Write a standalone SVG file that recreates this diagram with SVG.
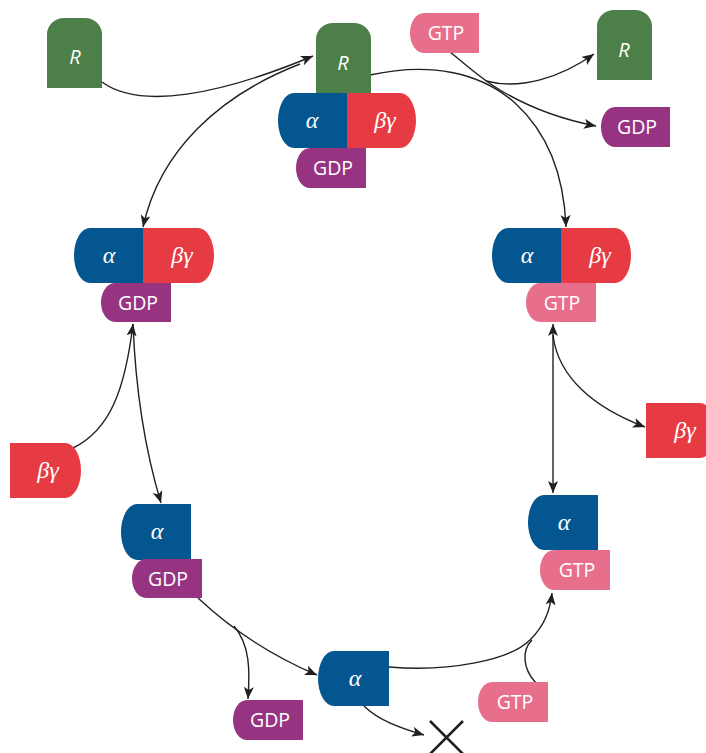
<svg xmlns="http://www.w3.org/2000/svg" width="706" height="753" viewBox="0 0 706 753">
<defs>
<style>
.g{fill:#4c8048}.b{fill:#03568f}.r{fill:#e63b43}.p{fill:#963482}.k{fill:#e86f8c}
.t{fill:#fff;font-family:"Open Sans","Noto Sans",sans-serif;font-size:19.5px;text-anchor:middle}
.gr{fill:#fff;font-family:"Liberation Serif","DejaVu Serif",serif;font-style:italic;font-size:24px;text-anchor:middle}
.ri{fill:#fff;font-family:"Open Sans","Noto Sans",sans-serif;font-style:italic;font-size:20px;text-anchor:middle}
.c{fill:none;stroke:#231f20;stroke-width:1.4}
</style>
<marker id="ah" markerUnits="userSpaceOnUse" markerWidth="13" markerHeight="11" refX="12" refY="5" orient="auto-start-reverse">
<path d="M0,0 L12,5 L0,10 L3,5 Z" fill="#231f20"/>
</marker>
</defs>

<g id="connectors">
<path class="c" d="M102 82 C140 110,220 95,313 56" marker-end="url(#ah)"/>
<path class="c" d="M300 64 C220 95,160 150,143 227" marker-end="url(#ah)"/>
<path class="c" d="M370 75 C430 62,480 72,515 103 C548 133,564 175,566 227" marker-end="url(#ah)"/>
<path class="c" d="M486 81 C520 90,560 78,594 54" marker-end="url(#ah)"/>
<path class="c" d="M450 52 C470 68,480 78,500 90 C530 108,565 120,596 126" marker-end="url(#ah)"/>
<path class="c" d="M73 448 C110 430,125 390,133 324" marker-end="url(#ah)"/>
<path class="c" d="M133 324 C136 400,148 460,161 503" marker-end="url(#ah)"/>
<path class="c" d="M553 324 L553 493" marker-start="url(#ah)" marker-end="url(#ah)"/>
<path class="c" d="M553 335 C558 378,595 408,645 427" marker-end="url(#ah)"/>
<path class="c" d="M198 598 C230 628,270 655,317 675" marker-end="url(#ah)"/>
<path class="c" d="M234 626 C250 645,250 670,248 699" marker-end="url(#ah)"/>
<path class="c" d="M389 667 C450 672,510 660,530 640 C545 625,550 610,552 593" marker-end="url(#ah)"/>
<path class="c" d="M536 683 C522 668,522 650,532 640"/>
<path class="c" d="M364 706 C378 720,400 728,424 735" marker-end="url(#ah)"/>
</g>

<g id="R-left"><path class="g" d="M47 88 V34 A17 16 0 0 1 64 18 H85 A17 16 0 0 1 102 34 V88 Z"/><text class="ri" x="75" y="64">R</text></g>
<g id="R-center"><path class="g" d="M316 93 V39 A17 16 0 0 1 333 23 H354 A17 16 0 0 1 371 39 V93 Z"/><text class="ri" x="343" y="70">R</text></g>
<g id="R-right"><path class="g" d="M597 80 V26 A17 16 0 0 1 614 10 H635 A17 16 0 0 1 652 26 V80 Z"/><text class="ri" x="624" y="57">R</text></g>

<g id="GTP-top"><path class="k" d="M424 13 H479 V53 H424 A14 20 0 0 1 424 13 Z"/><text class="t" x="446" y="40">GTP</text></g>
<g id="GDP-right"><path class="p" d="M615 107 H670 V147 H615 A14 20 0 0 1 615 107 Z"/><text class="t" x="637" y="134">GDP</text></g>

<g id="complex-top">
<path class="b" d="M294 93 H347 V148 H294 A16 27.5 0 0 1 294 93 Z"/>
<path class="r" d="M347 93 H400 A16 27.5 0 0 1 400 148 H347 Z"/>
<text class="gr" x="312" y="128">α</text><text class="gr" x="385" y="128">βγ</text>
<path class="p" d="M310 148 H366 V188 H310 A14 20 0 0 1 310 148 Z"/><text class="t" x="333" y="175">GDP</text>
</g>

<g id="complex-left">
<path class="b" d="M90 228 H143 V283 H90 A16 27.5 0 0 1 90 228 Z"/>
<path class="r" d="M143 228 H198 A16 27.5 0 0 1 198 283 H143 Z"/>
<text class="gr" x="109" y="263">α</text><text class="gr" x="182" y="263">βγ</text>
<path class="p" d="M115 283 H171 V322 H115 A14 19.5 0 0 1 115 283 Z"/><text class="t" x="138" y="310">GDP</text>
</g>

<g id="complex-right">
<path class="b" d="M508 228 H561 V283 H508 A16 27.5 0 0 1 508 228 Z"/>
<path class="r" d="M561 228 H615 A16 27.5 0 0 1 615 283 H561 Z"/>
<text class="gr" x="527" y="263">α</text><text class="gr" x="600" y="263">βγ</text>
<path class="k" d="M540 283 H596 V322 H540 A14 19.5 0 0 1 540 283 Z"/><text class="t" x="562" y="310">GTP</text>
</g>

<g id="bg-left"><path class="r" d="M10 443 H65 A16 27.5 0 0 1 65 498 H10 Z"/><text class="gr" x="48" y="478">βγ</text></g>
<g id="bg-right"><path class="r" d="M646 403 H700 A16 27.5 0 0 1 700 458 H646 Z"/><text class="gr" x="685" y="438">βγ</text></g>

<g id="alpha-gdp-left">
<path class="b" d="M137 504 H191 V560 H137 A16 28 0 0 1 137 504 Z"/><text class="gr" x="157" y="539">α</text>
<path class="p" d="M146 559 H202 V598 H146 A14 19.5 0 0 1 146 559 Z"/><text class="t" x="168" y="586">GDP</text>
</g>

<g id="alpha-gtp-right">
<path class="b" d="M544 495 H598 V550 H544 A16 27.5 0 0 1 544 495 Z"/><text class="gr" x="564" y="530">α</text>
<path class="k" d="M554 550 H610 V590 H554 A14 20 0 0 1 554 550 Z"/><text class="t" x="577" y="577">GTP</text>
</g>

<g id="alpha-bottom"><path class="b" d="M334 651 H389 V706 H334 A16 27.5 0 0 1 334 651 Z"/><text class="gr" x="355" y="686">α</text></g>
<g id="GDP-bottom"><path class="p" d="M247 700 H303 V740 H247 A14 20 0 0 1 247 700 Z"/><text class="t" x="270" y="727">GDP</text></g>
<g id="GTP-bottom"><path class="k" d="M492 682 H548 V722 H492 A14 20 0 0 1 492 682 Z"/><text class="t" x="515" y="709">GTP</text></g>

<g id="X"><path d="M430 721 L463 754 M463 721 L430 754" stroke="#231f20" stroke-width="2.6" fill="none"/></g>
</svg>
